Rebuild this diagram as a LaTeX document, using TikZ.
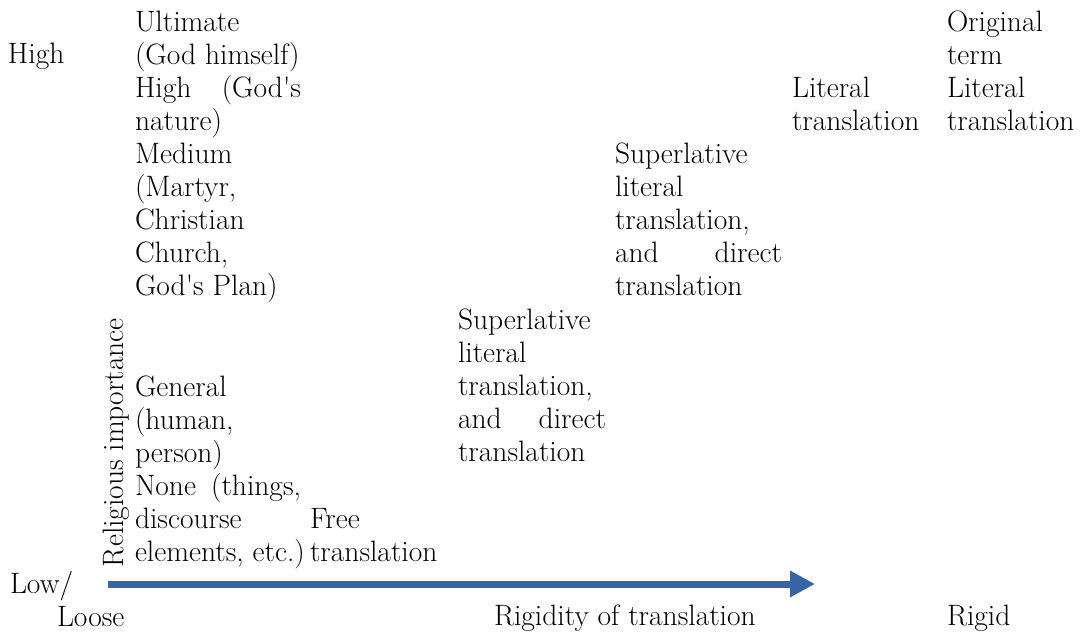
\documentclass[tikz,border=0pt]{standalone}
\usetikzlibrary{arrows.meta}
\definecolor{axisblue}{RGB}{54,100,166}
\newcommand{\apo}{\textquotesingle}
\begin{document}
\begin{tikzpicture}[x=1pt,y=-1pt,
  lbl/.style={anchor=base west,inner sep=0pt,outer sep=0pt,align=left,
    font=\fontsize{29.5}{33}\selectfont},
  axisarrow/.style={draw=axisblue,line width=7pt,
    -{Triangle[length=25pt,width=25pt]}}]
\useasboundingbox (0,0) rectangle (1082,634);
% left column labels (anchor = baseline of last line)
\node[lbl] (high) at (8,64) {High};
\node[lbl] (low) at (10,593) {Low/};
\node[lbl] (loose) at (57,626) {Loose};
\node[lbl,rotate=90] (relig) at (123,567) {Religious importance};
% importance categories
\node[lbl] (top) at (135,295) {Ultimate\\(God himself)\\\hbox to 166pt{High\hfill(God\apo s}\\nature)\\Medium\\(Martyr,\\Christian\\Church,\\God\apo s Plan)};
\node[lbl] (bottom) at (135,561) {General\\(human,\\person)\\\hbox to 166pt{None\hfill(things,}\\discourse\\elements, etc.)};
% translation strategies
\node[lbl] (free) at (310,561) {Free\\translation};
\node[lbl] (sup1) at (458,461) {Superlative\\literal\\translation,\\\hbox to 148pt{and\hfill direct}\\translation};
\node[lbl] (sup2) at (615,295) {Superlative\\literal\\translation,\\\hbox to 167pt{and\hfill direct}\\translation};
\node[lbl] (lit) at (792,130) {Literal\\translation};
\node[lbl] (orig) at (947,130) {Original\\term\\Literal\\translation};
% horizontal axis
\node[lbl] (rigidity) at (494,625) {Rigidity of translation};
\node[lbl] (rigid) at (947,625) {Rigid};
\coordinate (as) at (108,584);
\coordinate (ae) at (815,584);
\draw[axisarrow] (as) -- (ae);
\end{tikzpicture}
\end{document}
